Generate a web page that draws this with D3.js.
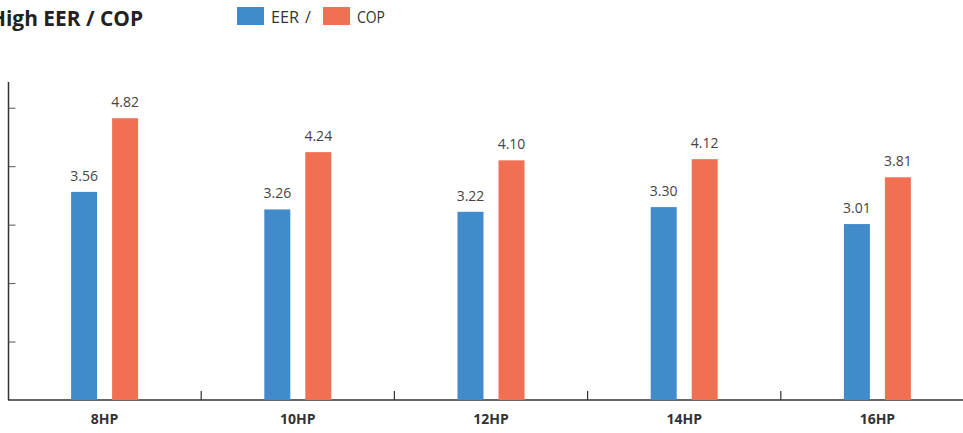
<!DOCTYPE html>
<html><head><meta charset="utf-8">
<script src="https://cdn.jsdelivr.net/npm/d3@7/dist/d3.min.js"></script>
<style>
html,body{margin:0;padding:0;background:#fff;}
svg{display:block;font-family:"Open Sans","Noto Sans",sans-serif;}
</style></head>
<body>
<svg id="chart" width="963" height="433"></svg>
<script>
const categories = ["8HP","10HP","12HP","14HP","16HP"];
const eer = [3.56, 3.26, 3.22, 3.30, 3.01];
const cop = [4.82, 4.24, 4.10, 4.12, 3.81];
const seriesNames = ["EER", "COP"];
const colors = ["#428bca", "#f16f52"];
const yTicks = [1, 2, 3, 4, 5];

const svg = d3.select("#chart");
const x = d3.scaleBand().domain(categories).range([8, 974]).padding(0);
const y = d3.scaleLinear().domain([0, 5.44]).range([400, 82]);
const sub = d3.scaleBand().domain([0,1]).range([-20.5-13, 20.5+13]).paddingInner(15/41).paddingOuter(0);

// y axis
const yAxis = svg.append("g").attr("transform","translate(8.5,0)")
  .call(d3.axisRight(y).tickValues(yTicks).tickSize(7).tickFormat(""));
yAxis.select(".domain").attr("d", `M0,${y(5.44)}V${y(0)}`).attr("stroke","#333").attr("stroke-width",1.5);
yAxis.selectAll(".tick line").attr("stroke","#555").attr("stroke-width",1);

// x axis
const xAxis = svg.append("g").attr("transform","translate(0,400)")
  .call(d3.axisBottom(x).tickSize(0).tickFormat(d=>d));
xAxis.select(".domain").attr("stroke","#333").attr("stroke-width",1.5).attr("d","M8,0H963");
xAxis.selectAll(".tick text").attr("dy","0").attr("y",24)
  .attr("font-size",14).attr("font-weight","bold").attr("fill","#333")
  .attr("font-family","'Open Sans','Noto Sans',sans-serif");
// boundary ticks
svg.append("g").selectAll("line").data(categories.slice(1)).join("line")
  .attr("x1",d=>x(d)).attr("x2",d=>x(d)).attr("y1",391).attr("y2",400)
  .attr("stroke","#333").attr("stroke-width",1.2);

// bars
const data = categories.map((c,i)=>({c, v:[eer[i], cop[i]]}));
const groups = svg.append("g").selectAll("g").data(data).join("g")
  .attr("transform", d=>`translate(${x(d.c)+x.bandwidth()/2},0)`);
groups.selectAll("rect").data(d=>d.v.map((v,k)=>({v,k}))).join("rect")
  .attr("x", d=>sub(d.k)).attr("width", sub.bandwidth())
  .attr("y", d=>y(d.v)).attr("height", d=>y(0)-y(d.v))
  .attr("fill", d=>colors[d.k]);
groups.selectAll("text").data(d=>d.v.map((v,k)=>({v,k}))).join("text")
  .attr("x", d=>sub(d.k)+sub.bandwidth()/2).attr("y", d=>y(d.v)-11)
  .attr("text-anchor","middle").attr("font-size",14).attr("fill","#444")
  .text(d=>d.v.toFixed(2));

// title
svg.append("text").attr("x",143).attr("y",26).attr("text-anchor","end")
  .attr("font-size",21).attr("font-weight","bold").attr("fill","#222")
  .attr("textLength",153).attr("lengthAdjust","spacingAndGlyphs")
  .text("High EER / COP");

// legend
const legX = [237, 323];
const leg = svg.append("g").selectAll("g").data(seriesNames).join("g")
  .attr("transform",(d,i)=>`translate(${legX[i]},7)`);
leg.append("rect").attr("width",27).attr("height",18).attr("fill",(d,i)=>colors[i]);
leg.append("text").attr("x",34).attr("y",16).attr("font-size",16).attr("fill","#333")
  .attr("textLength",28).attr("lengthAdjust","spacingAndGlyphs").text(d=>d);
svg.append("text").attr("x",305).attr("y",23).attr("font-size",16).attr("fill","#333").text("/");
</script>
</body></html>
